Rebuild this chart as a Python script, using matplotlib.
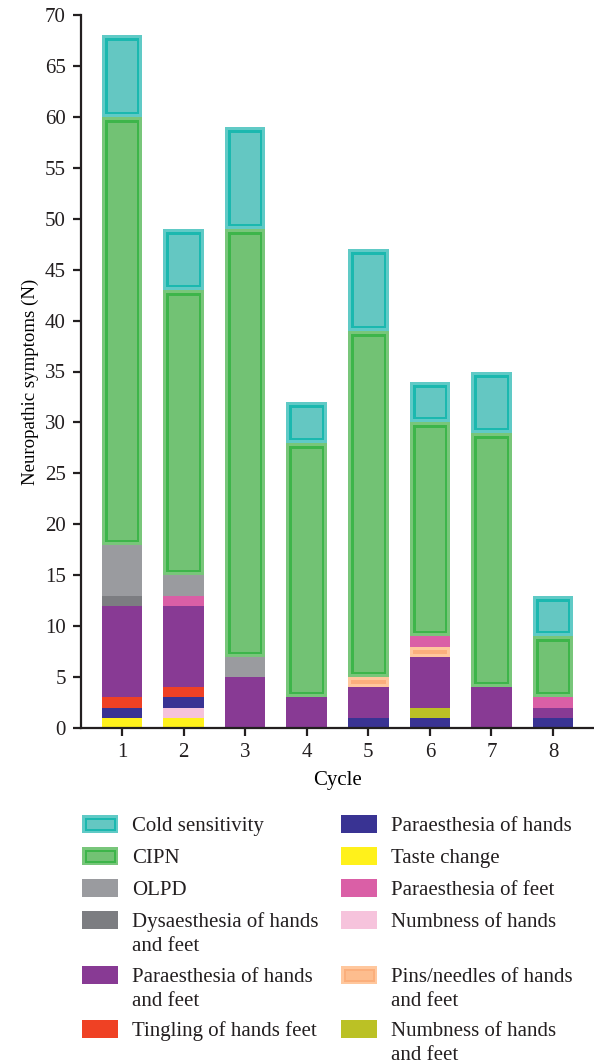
import matplotlib
matplotlib.use("Agg")
import matplotlib.pyplot as plt
from matplotlib.patches import Rectangle
import numpy as np

plt.rcParams['font.family'] = ['Liberation Serif', 'DejaVu Serif']
plt.rcParams['text.color'] = '#231F20'

cycles = [1, 2, 3, 4, 5, 6, 7, 8]

# stacking order, bottom to top
taste_change = [1, 1, 0, 0, 0, 0, 0, 0]
numb_hands = [0, 1, 0, 0, 0, 0, 0, 0]
paraes_hands = [1, 1, 0, 0, 1, 1, 0, 1]
numb_hands_feet = [0, 0, 0, 0, 0, 1, 0, 0]
tingling = [1, 1, 0, 0, 0, 0, 0, 0]
paraes_hands_feet = [9, 8, 5, 3, 3, 5, 4, 1]
pins_needles = [0, 0, 0, 0, 1, 1, 0, 0]
paraes_feet = [0, 1, 0, 0, 0, 1, 0, 1]
dysaes = [1, 0, 0, 0, 0, 0, 0, 0]
olpd = [5, 2, 2, 0, 0, 0, 0, 0]
cipn = [42, 28, 42, 25, 34, 21, 25, 6]
cold = [8, 6, 10, 4, 8, 4, 6, 4]

# label, values, fill, inner line colour (None = plain), outer band
series = [
    ("Taste change", taste_change, "#FFF11B", None, None),
    ("Numbness of hands", numb_hands, "#F6C3DC", None, None),
    ("Paraesthesia of hands", paraes_hands, "#393393", None, None),
    ("Numbness of hands\nand feet", numb_hands_feet, "#BBC125", None, None),
    ("Tingling of hands feet", tingling, "#EF4124", None, None),
    ("Paraesthesia of hands\nand feet", paraes_hands_feet, "#883A94", None, None),
    ("Pins/needles of hands\nand feet", pins_needles, "#FDBD8E", "#FBAF7C", "#FFC79D"),
    ("Paraesthesia of feet", paraes_feet, "#DA5FA6", None, None),
    ("Dysaesthesia of hands\nand feet", dysaes, "#7C7D81", None, None),
    ("OLPD", olpd, "#9A9B9F", None, None),
    ("CIPN", cipn, "#72C274", "#3DB54A", "#78C67A"),
    ("Cold sensitivity", cold, "#64C7C2", "#1BB8AF", "#60CAC6"),
]

PX = 72 / 100  # points per pixel


def framed(ax, x, h, w, bottom, fill, line, outer):
    ax.bar(x, h, w, bottom=bottom, color=fill, linewidth=0)
    if line is None:
        return
    # inner frame: clip edge strokes to the bar itself
    for col, lw in [(line, 11 * PX), (outer, 6 * PX)]:
        edge = ax.bar(x, h, w, bottom=bottom, facecolor='none',
                      edgecolor=col, linewidth=lw)
        for p in edge:
            p.set_clip_path(p)


fig = plt.figure(figsize=(5.94, 10.64), dpi=100)
ax = fig.add_axes([81 / 594, 1 - 728 / 1064, 1 - 81 / 594, (728 - 15) / 1064])

bottom = np.zeros(len(cycles))
for label, vals, fill, line, outer in series:
    vals = np.array(vals, dtype=float)
    framed(ax, cycles, vals, 0.66, bottom, fill, line, outer)
    bottom += vals

ax.set_xlim(0.335, 8.665)
ax.set_ylim(0, 70)
ax.set_yticks(np.arange(0, 71, 5))
ax.set_xticks(cycles)
for s in ['top', 'right']:
    ax.spines[s].set_visible(False)
for s in ['left', 'bottom']:
    ax.spines[s].set_linewidth(1.6)
    ax.spines[s].set_color('#231F20')
ax.tick_params(length=6, width=1.6, color='#231F20', labelsize=15,
               labelcolor='#231F20', pad=5)
ax.set_xlabel("Cycle", fontsize=15, labelpad=6)
ax.set_ylabel("Neuropathic symptoms (N)", fontsize=13.6, labelpad=4)
ax.yaxis.label.set_y(0.485)

# legend drawn in pixel space, two columns on a shared row grid
leg = fig.add_axes([0, 0, 1, 1], zorder=-1)
leg.set_xlim(0, 594)
leg.set_ylim(1064, 0)
leg.axis('off')

left_col = ["Cold sensitivity", "CIPN", "OLPD", "Dysaesthesia of hands\nand feet",
            "Paraesthesia of hands\nand feet", "Tingling of hands feet"]
right_col = ["Paraesthesia of hands", "Taste change", "Paraesthesia of feet",
             "Numbness of hands", "Pins/needles of hands\nand feet",
             "Numbness of hands\nand feet"]
style = {s[0]: s[2:] for s in series}

col_x = [82, 341]
line_gap = 24
y = 824
for a, b in zip(left_col, right_col):
    nlines = max(a.count("\n"), b.count("\n")) + 1
    for cx, lab in zip(col_x, [a, b]):
        fill, line, outer = style[lab]
        leg.add_patch(Rectangle((cx, y - 9), 36, 18, facecolor=fill, linewidth=0))
        if line is not None:
            for col, lw in [(line, 9 * PX), (outer, 5 * PX)]:
                r = Rectangle((cx, y - 9), 36, 18, facecolor='none',
                              edgecolor=col, linewidth=lw)
                leg.add_patch(r)
                r.set_clip_path(r)
        for k, part in enumerate(lab.split("\n")):
            leg.text(cx + 50, y + 7 + k * line_gap, part, fontsize=15,
                     va='baseline', ha='left')
    y += 32 + 22.5 * (nlines - 1)

fig.savefig("out.png", dpi=100)
